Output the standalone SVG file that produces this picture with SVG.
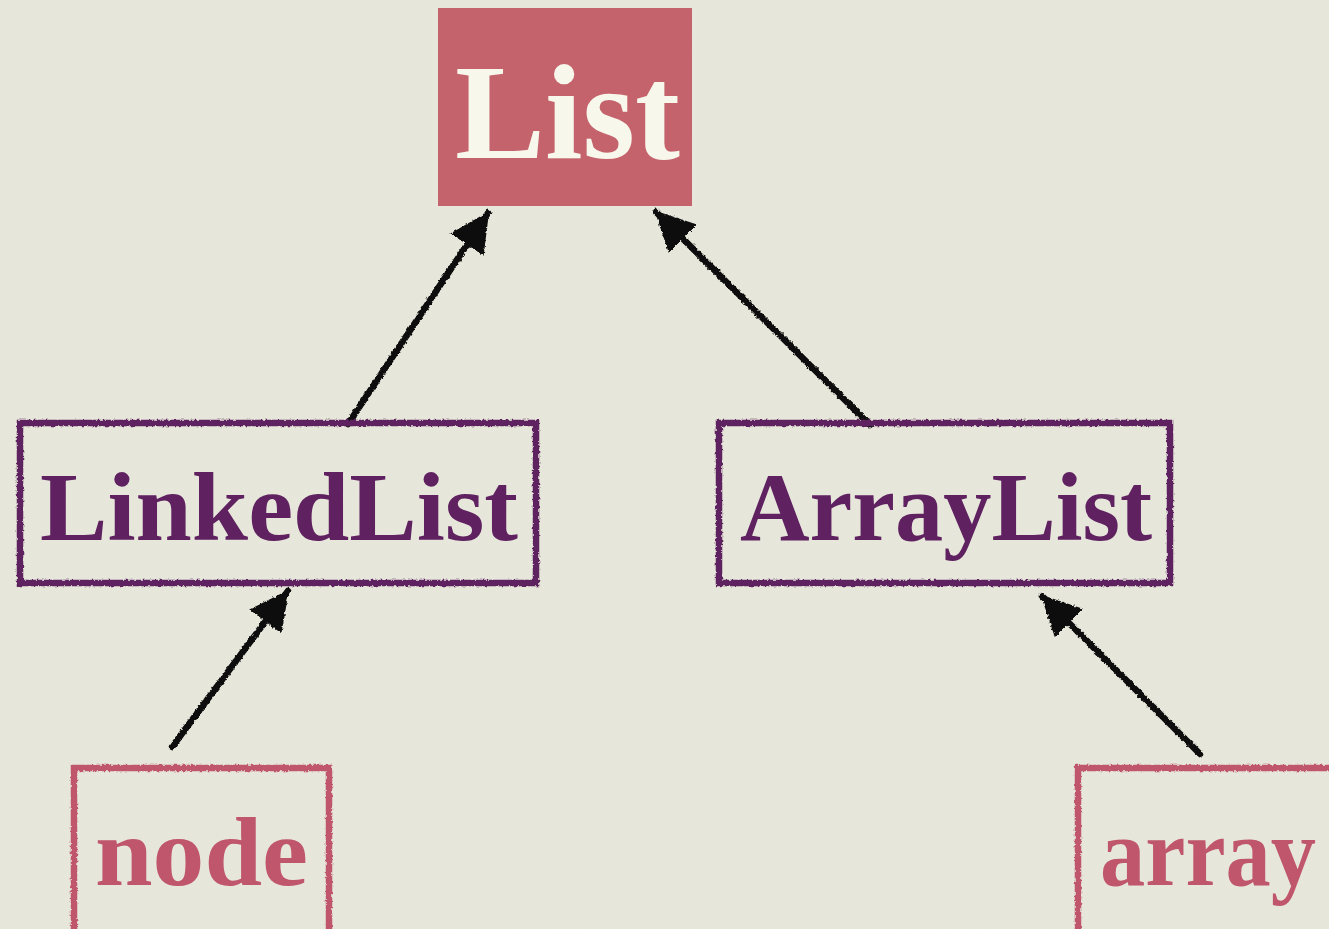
<svg xmlns="http://www.w3.org/2000/svg" width="1329" height="929" viewBox="0 0 1329 929">
  <defs>
    <!-- paper grain -->
    <filter id="paper" x="0" y="0" width="100%" height="100%">
      <feTurbulence type="fractalNoise" baseFrequency="0.9" numOctaves="2" seed="3" result="n"/>
      <feColorMatrix in="n" type="matrix" values="0 0 0 0 0.85  0 0 0 0 0.85  0 0 0 0 0.8  0 0 0 0.25 0" result="g"/>
      <feComposite in="g" in2="SourceGraphic" operator="over"/>
    </filter>
    <!-- hand-drawn wobble for strokes -->
    <filter id="rough" x="-10%" y="-10%" width="120%" height="120%">
      <feTurbulence type="fractalNoise" baseFrequency="0.35" numOctaves="2" seed="7" result="t"/>
      <feDisplacementMap in="SourceGraphic" in2="t" scale="3.5" xChannelSelector="R" yChannelSelector="G"/>
    </filter>
    <marker id="head" viewBox="0 0 10 10" refX="9.5" refY="5" markerWidth="40" markerHeight="40" markerUnits="userSpaceOnUse" orient="auto" preserveAspectRatio="none">
      <path d="M0,0 L10,5 L0,10 Z" fill="#111"/>
    </marker>
  </defs>
  <style>
    .label { font-family: "Liberation Serif", "Times New Roman", serif; font-weight: bold; }
    .box-purple { fill: none; stroke: #5f2160; stroke-width: 6.5; }
    .box-pink { fill: none; stroke: #c0566c; stroke-width: 6.5; }
    .edge { fill: none; stroke: #111; stroke-width: 6.5; stroke-linecap: round; }
  </style>

  <rect x="0" y="0" width="1329" height="929" fill="#e5e5d9" filter="url(#paper)"/>

  <g id="connectors" filter="url(#rough)">
    <line class="edge" x1="348" y1="424" x2="488" y2="213" marker-end="url(#head)"/>
    <line class="edge" x1="870" y1="425" x2="656" y2="212" marker-end="url(#head)"/>
    <line class="edge" x1="172" y1="747" x2="288" y2="591" marker-end="url(#head)"/>
    <line class="edge" x1="1200" y1="754" x2="1042" y2="596" marker-end="url(#head)"/>
  </g>

  <g id="list">
    <rect x="438" y="8" width="254" height="198" fill="#c4636b"/>
    <text class="label" x="455" y="158" font-size="136" fill="#f7f7eb" textLength="225" lengthAdjust="spacingAndGlyphs">List</text>
  </g>

  <g id="linkedlist">
    <rect class="box-purple" x="20" y="423" width="516" height="160" filter="url(#rough)"/>
    <text class="label" x="40" y="540" font-size="98" fill="#5f2160" textLength="478" lengthAdjust="spacingAndGlyphs">LinkedList</text>
  </g>

  <g id="arraylist">
    <rect class="box-purple" x="719" y="423" width="451" height="160" filter="url(#rough)"/>
    <text class="label" x="740" y="540" font-size="98" fill="#5f2160" textLength="412" lengthAdjust="spacingAndGlyphs">ArrayList</text>
  </g>

  <g id="node">
    <rect class="box-pink" x="74" y="768" width="255" height="180" filter="url(#rough)"/>
    <text class="label" x="95" y="885" font-size="98" fill="#c0566c" textLength="213" lengthAdjust="spacingAndGlyphs">node</text>
  </g>

  <g id="array">
    <rect class="box-pink" x="1078" y="768" width="280" height="180" filter="url(#rough)"/>
    <text class="label" x="1100" y="885" font-size="98" fill="#c0566c" textLength="216" lengthAdjust="spacingAndGlyphs">array</text>
  </g>
</svg>
